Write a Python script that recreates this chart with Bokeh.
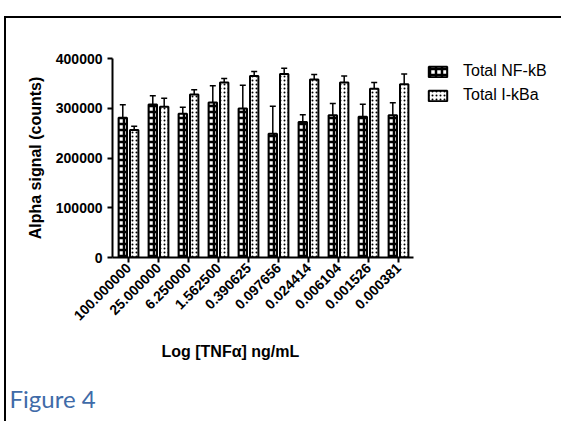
from bokeh.plotting import figure
from bokeh.models import (ColumnDataSource, Range1d, FixedTicker, Whisker, TeeHead,
                          Legend, LegendItem, Title, BasicTickFormatter)
from bokeh.embed import file_html
from bokeh.resources import INLINE
import math

# ---- data ----
concentrations = ["100.000000", "25.000000", "6.250000", "1.562500", "0.390625",
                  "0.097656", "0.024414", "0.006104", "0.001526", "0.000381"]
nfkb = [281000, 307500, 289000, 311500, 299500, 248500, 272500, 286000, 283000, 286000]
nfkb_err = [26000, 17500, 13000, 33500, 46500, 55500, 14500, 23500, 25000, 25000]
ikba = [256500, 303000, 327500, 352000, 365000, 369000, 358000, 352000, 339000, 348000]
ikba_err = [7500, 17000, 9500, 8000, 9000, 11500, 10000, 13000, 13000, 21000]
y_ticks = [0, 100000, 200000, 300000, 400000]
series_names = ["Total NF-kB", "Total I-kBa"]
x_title = "Log [TNFα] ng/mL"
y_title = "Alpha signal (counts)"
caption = "Figure 4"

idx = list(range(len(concentrations)))
OFF = 0.19
src = ColumnDataSource(dict(
    x_nf=[i - OFF for i in idx], x_ik=[i + OFF for i in idx],
    nf=nfkb, nf_hi=[v + e for v, e in zip(nfkb, nfkb_err)],
    ik=ikba, ik_hi=[v + e for v, e in zip(ikba, ikba_err)],
))

p = figure(output_backend="svg", toolbar_location=None,
           frame_width=301, frame_height=199,
           min_border_left=106, min_border_top=40, min_border_right=130, min_border_bottom=162,
           x_range=Range1d(-0.533, 9.5), y_range=Range1d(0, 400000))
p.styles = {"border-top": "2px solid black", "border-left": "2px solid black",
            "margin-top": "16px", "margin-left": "4px"}
p.outline_line_color = None
p.grid.visible = False
p.background_fill_color = "white"
p.border_fill_color = "white"

r_nf = p.vbar(x="x_nf", top="nf", width=0.28, source=src, fill_color="white",
              line_color="black", line_width=2, hatch_pattern="cross",
              hatch_color="black", hatch_scale=6, hatch_weight=2.5)
r_ik = p.vbar(x="x_ik", top="ik", width=0.28, source=src, fill_color="white",
              line_color="black", line_width=2, hatch_pattern="dot",
              hatch_color="black", hatch_scale=4, hatch_weight=1)

for xcol, lo, hi in (("x_nf", "nf", "nf_hi"), ("x_ik", "ik", "ik_hi")):
    w = Whisker(base=xcol, lower=lo, upper=hi, source=src, line_width=1.5,
                line_color="black", lower_head=None,
                upper_head=TeeHead(size=6, line_width=1.5, line_color="black"))
    p.add_layout(w)

# axes
p.yaxis.ticker = FixedTicker(ticks=y_ticks)
p.yaxis.formatter = BasicTickFormatter(use_scientific=False)
p.xaxis.ticker = FixedTicker(ticks=idx)
p.xaxis.major_label_overrides = {i: c for i, c in enumerate(concentrations)}
p.xaxis.major_label_orientation = math.pi / 4
for ax in (p.xaxis, p.yaxis):
    ax.axis_line_width = 2
    ax.axis_line_color = "black"
    ax.major_tick_line_width = 2
    ax.major_tick_line_color = "black"
    ax.major_tick_out = 5
    ax.major_tick_in = 0
    ax.minor_tick_line_color = None
    ax.major_label_text_font = "Liberation Sans"
    ax.major_label_text_font_style = "bold"
    ax.major_label_text_font_size = "14px"
    ax.major_label_text_color = "black"
    ax.axis_label_text_font = "Liberation Sans"
    ax.axis_label_text_font_style = "bold"
    ax.axis_label_text_font_size = "16px"
    ax.axis_label_text_color = "black"
p.yaxis.axis_label = y_title
p.yaxis.major_label_standoff = 5
p.yaxis.axis_label_standoff = 9
p.xaxis.major_label_standoff = 3

legend = Legend(items=[LegendItem(label=series_names[0], renderers=[r_nf]),
                       LegendItem(label=series_names[1], renderers=[r_ik])],
                location=(13, 153), margin=0, padding=0, spacing=6,
                glyph_width=23, glyph_height=13, label_height=16, label_standoff=14,
                border_line_color=None, background_fill_alpha=0,
                label_text_font="Liberation Sans", label_text_font_size="16px",
                label_text_color="black")
p.add_layout(legend, "right")

xt = Title(text=x_title, text_font="Liberation Sans", text_font_size="16px",
           text_font_style="bold", text_color="black", align="left",
           offset=49, standoff=26)
p.add_layout(xt, "below")

fig_title = Title(text=caption, text_font="Lato", text_font_size="24px",
                  text_font_style="normal", text_color="#3F6BA8", align="left",
                  offset=-103, standoff=18)
p.add_layout(fig_title, "below")

open("out.html", "w").write(file_html(p, INLINE))
